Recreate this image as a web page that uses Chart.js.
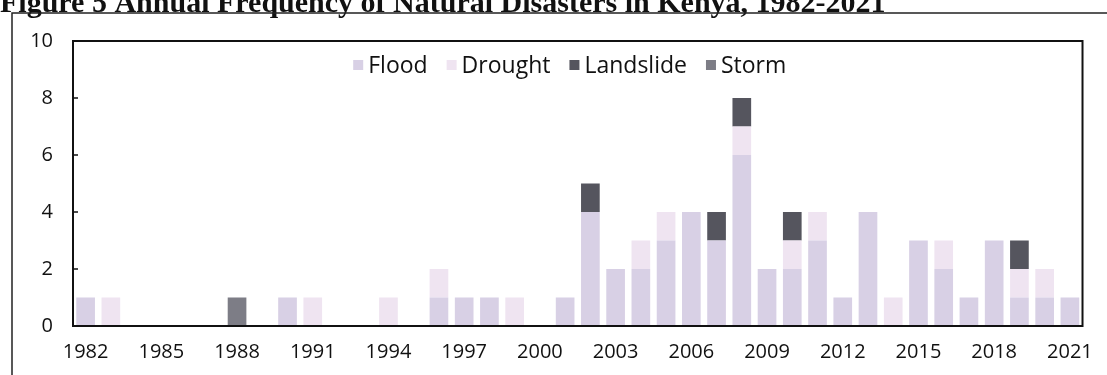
<!DOCTYPE html>
<html>
<head>
<meta charset="utf-8">
<title>Annual Frequency of Natural Disasters in Kenya</title>
<script src="https://cdn.jsdelivr.net/npm/chart.js"></script>
<style>
  html, body { margin: 0; padding: 0; background: #fff; }
  #chart-container { width: 1107px; height: 375px; position: relative; }
</style>
</head>
<body>
<div id="chart-container"><canvas id="chart" width="1107" height="375"></canvas></div>
<script>
// Disaster counts per year, 1982-2021
const years = [1982, 1983, 1984, 1985, 1986, 1987, 1988, 1989, 1990, 1991,
               1992, 1993, 1994, 1995, 1996, 1997, 1998, 1999, 2000, 2001,
               2002, 2003, 2004, 2005, 2006, 2007, 2008, 2009, 2010, 2011,
               2012, 2013, 2014, 2015, 2016, 2017, 2018, 2019, 2020, 2021];
const flood     = [1, 0, 0, 0, 0, 0, 0, 0, 1, 0,
                   0, 0, 0, 0, 1, 1, 1, 0, 0, 1,
                   4, 2, 2, 3, 4, 3, 6, 2, 2, 3,
                   1, 4, 0, 3, 2, 1, 3, 1, 1, 1];
const drought   = [0, 1, 0, 0, 0, 0, 0, 0, 0, 1,
                   0, 0, 1, 0, 1, 0, 0, 1, 0, 0,
                   0, 0, 1, 1, 0, 0, 1, 0, 1, 1,
                   0, 0, 1, 0, 1, 0, 0, 1, 1, 0];
const landslide = [0, 0, 0, 0, 0, 0, 0, 0, 0, 0,
                   0, 0, 0, 0, 0, 0, 0, 0, 0, 0,
                   1, 0, 0, 0, 0, 1, 1, 0, 1, 0,
                   0, 0, 0, 0, 0, 0, 0, 1, 0, 0];
const storm     = [0, 0, 0, 0, 0, 0, 1, 0, 0, 0,
                   0, 0, 0, 0, 0, 0, 0, 0, 0, 0,
                   0, 0, 0, 0, 0, 0, 0, 0, 0, 0,
                   0, 0, 0, 0, 0, 0, 0, 0, 0, 0];
const yTicks = [0, 2, 4, 6, 8, 10];

const figureTitle = 'Figure 5 Annual Frequency of Natural Disasters in Kenya, 1982-2021';
const labelFont = '"Open Sans", sans-serif';

// Title, outer frame, boxed plot area, inward y ticks and the in-plot legend
const framePlugin = {
    id: 'frame',
    beforeDraw(chart) {
        const ctx = chart.ctx;
        ctx.save();
        ctx.fillStyle = '#fff';
        ctx.fillRect(0, 0, chart.width, chart.height);
        ctx.fillStyle = '#111';
        ctx.font = 'bold 30px "Liberation Serif", serif';
        ctx.textBaseline = 'alphabetic';
        ctx.fillText(figureTitle, 0, 12);
        ctx.strokeStyle = '#222';
        ctx.lineWidth = 1.5;
        ctx.beginPath();
        ctx.moveTo(12, chart.height);
        ctx.lineTo(12, 13);
        ctx.lineTo(chart.width, 13);
        ctx.stroke();
        ctx.restore();
    },
    afterDraw(chart) {
        const ctx = chart.ctx;
        const a = chart.chartArea;
        const y = chart.scales.y;
        ctx.save();
        ctx.strokeStyle = '#111';
        ctx.lineWidth = 2;
        ctx.strokeRect(a.left, a.top, a.right - a.left, a.bottom - a.top);
        ctx.lineWidth = 1.5;
        ctx.beginPath();
        yTicks.forEach(v => {
            const py = y.getPixelForValue(v);
            ctx.moveTo(a.left, py);
            ctx.lineTo(a.left + 5, py);
        });
        ctx.stroke();

        // legend row across the top of the plot
        const sets = chart.data.datasets;
        const box = 10, gap = 5, spacing = 19;
        ctx.font = '23px ' + labelFont;
        const widths = sets.map(d => ctx.measureText(d.label).width);
        const total = widths.reduce((s, w) => s + box + gap + w, 0) + spacing * (sets.length - 1);
        let x = (a.left + a.right) / 2 - 8 - total / 2;
        const cy = a.top + 24;
        ctx.textBaseline = 'middle';
        sets.forEach((d, i) => {
            ctx.fillStyle = d.backgroundColor;
            ctx.fillRect(x, cy - box / 2, box, box);
            ctx.fillStyle = '#111';
            ctx.fillText(d.label, x + box + gap, cy + 1);
            x += box + gap + widths[i] + spacing;
        });
        ctx.restore();
    }
};

const ctx = document.getElementById('chart').getContext('2d');
new Chart(ctx, {
    type: 'bar',
    data: {
        labels: years,
        datasets: [
            { label: 'Flood', data: flood, backgroundColor: '#d8d0e5' },
            { label: 'Drought', data: drought, backgroundColor: '#efe4f1' },
            { label: 'Landslide', data: landslide, backgroundColor: '#55555e' },
            { label: 'Storm', data: storm, backgroundColor: '#7d7d86' }
        ]
    },
    options: {
        responsive: false,
        animation: false,
        layout: { padding: { left: 12, top: 41, right: 19, bottom: 0 } },
        datasets: {
            bar: { barPercentage: 0.74, categoryPercentage: 1, borderWidth: 0 }
        },
        plugins: {
            legend: { display: false },
            tooltip: { enabled: false }
        },
        scales: {
            x: {
                stacked: true,
                grid: { display: false, drawTicks: false },
                border: { display: false },
                afterFit(scale) { scale.height = 49; },
                ticks: {
                    autoSkip: false,
                    maxRotation: 0,
                    padding: 14,
                    color: '#111',
                    font: { family: labelFont, size: 20 },
                    callback: (val, i) => (i % 3 === 0 ? years[i] : '')
                }
            },
            y: {
                stacked: true,
                min: 0,
                max: 10,
                grid: { display: false, drawTicks: false },
                border: { display: false },
                afterFit(scale) { scale.width = 61; },
                ticks: {
                    stepSize: 2,
                    padding: 20,
                    color: '#111',
                    font: { family: labelFont, size: 20 }
                }
            }
        }
    },
    plugins: [framePlugin]
});
</script>
</body>
</html>
